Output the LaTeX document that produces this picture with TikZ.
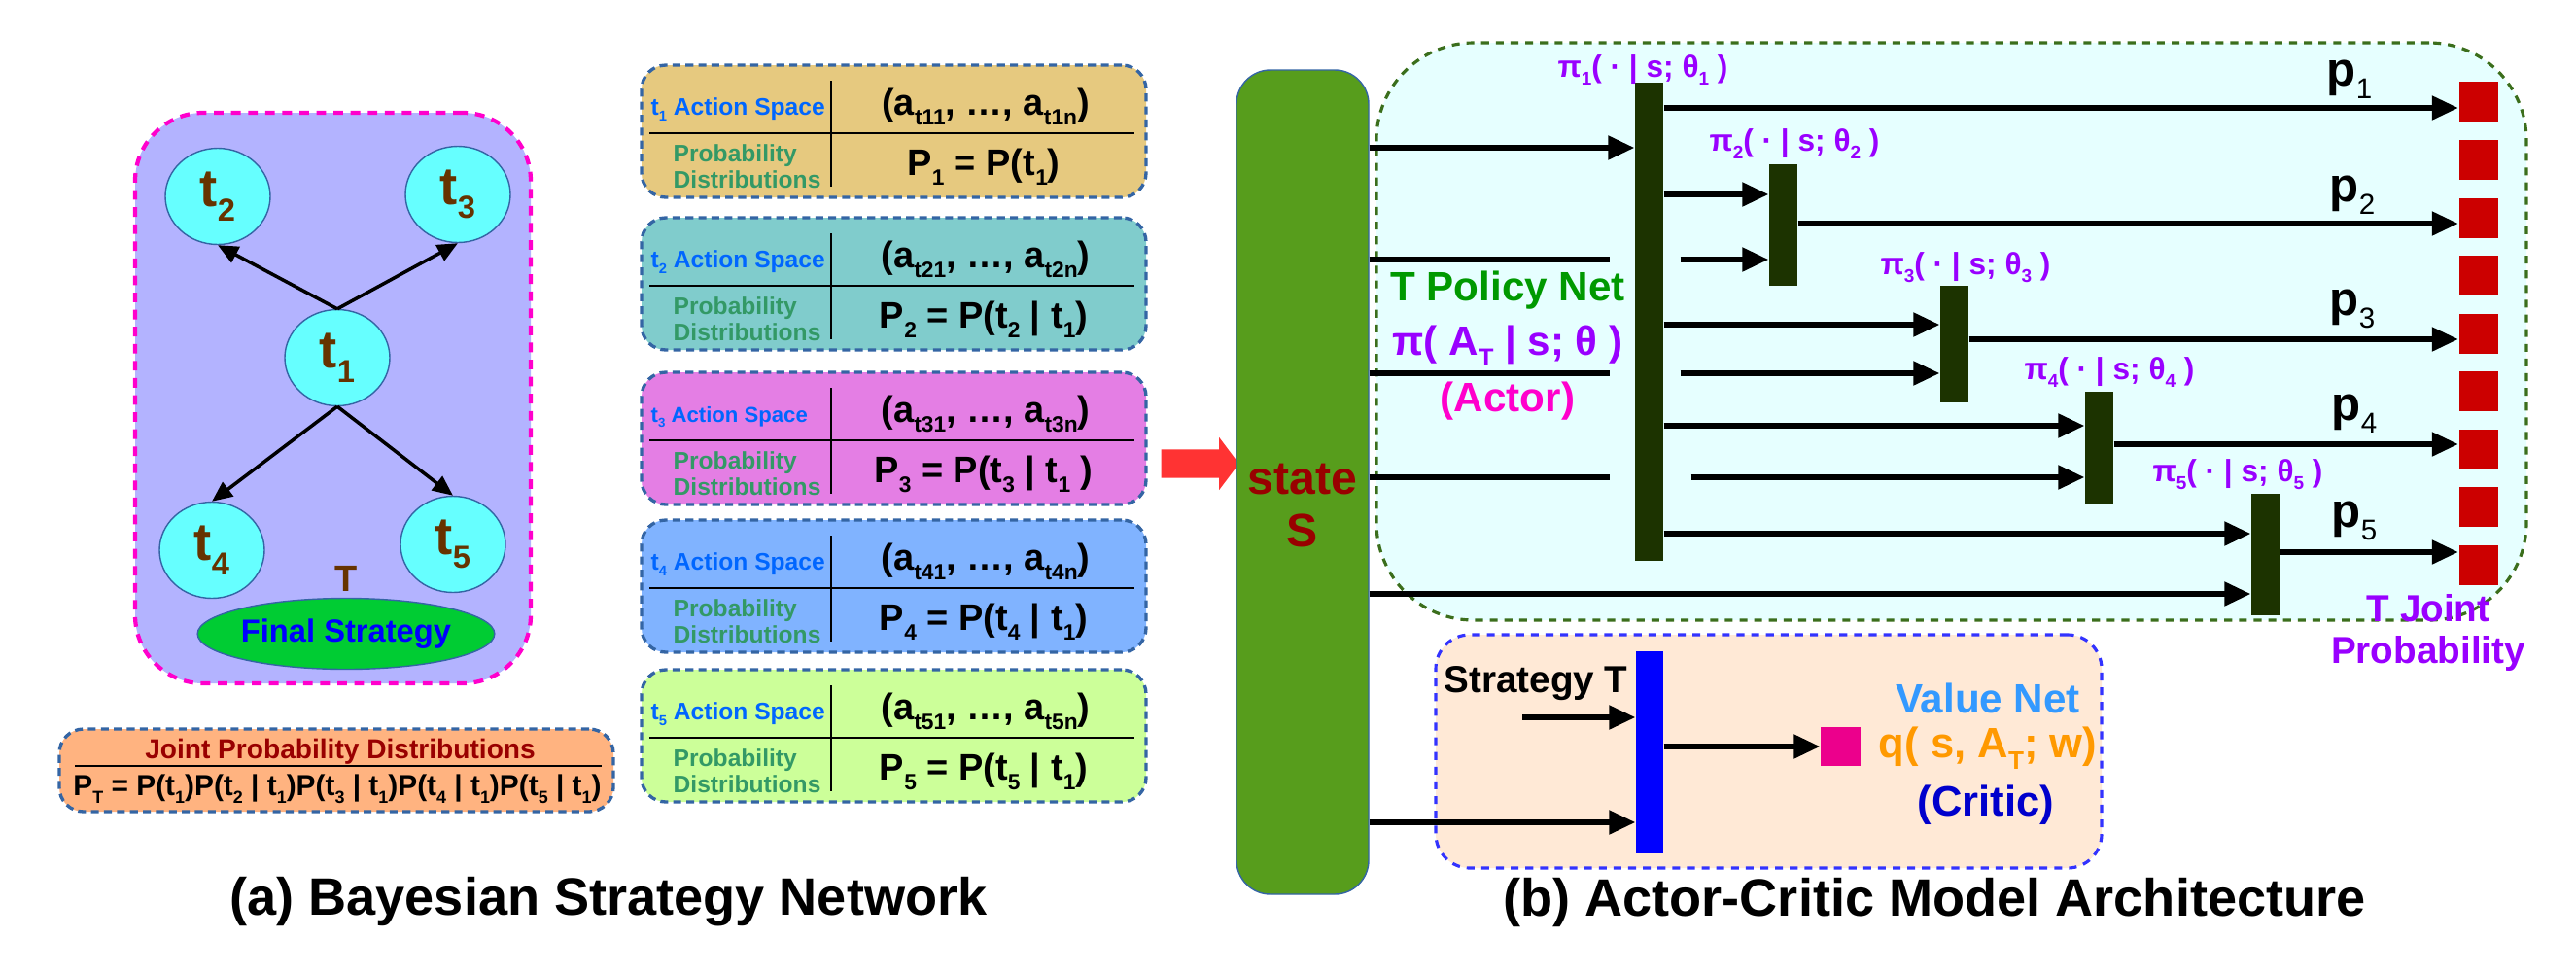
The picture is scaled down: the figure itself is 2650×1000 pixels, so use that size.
\documentclass[tikz,border=0pt]{standalone}
\usepackage{fontspec}
\setmainfont{Liberation Sans}
\usetikzlibrary{arrows.meta,shapes.geometric,shapes.arrows}

\definecolor{boxline}{HTML}{3465A4}
\definecolor{bsnfill}{HTML}{B3B3FF}
\definecolor{bsnline}{HTML}{FF00CC}
\definecolor{tcyan}{HTML}{66FFFF}
\definecolor{tbrown}{HTML}{663300}
\definecolor{fsgreen}{HTML}{00CC33}
\definecolor{jfill}{HTML}{FFB380}
\definecolor{jred}{HTML}{990000}
\definecolor{asblue}{HTML}{0066FF}
\definecolor{pdgreen}{HTML}{339966}
\definecolor{asone}{HTML}{E6C97F}
\definecolor{astwo}{HTML}{80CCCC}
\definecolor{asthree}{HTML}{E47EE4}
\definecolor{asfour}{HTML}{80B3FF}
\definecolor{asfive}{HTML}{CCFF99}
\definecolor{redarrow}{HTML}{FF3333}
\definecolor{stgreen}{HTML}{579D1C}
\definecolor{polfill}{HTML}{E6FFFF}
\definecolor{polline}{HTML}{3B6E1C}
\definecolor{pbarcol}{HTML}{1C3300}
\definecolor{sqred}{HTML}{CC0000}
\definecolor{pipurple}{HTML}{9900FF}
\definecolor{netgreen}{HTML}{009900}
\definecolor{actmag}{HTML}{FF00CC}
\definecolor{valfill}{HTML}{FFE9D6}
\definecolor{valline}{HTML}{3333FF}
\definecolor{valblue}{HTML}{3399FF}
\definecolor{qorange}{HTML}{FF9900}
\definecolor{critblue}{HTML}{0000CC}

\newcommand\dn[1]{\raisebox{-0.27em}{\scalebox{0.6}{#1}}}

\tikzset{
  txt/.style={inner sep=0pt, font=\fontsize{#1}{#1}\selectfont\bfseries},
  bsnbox/.style={draw=bsnline, fill=bsnfill, line width=1.2pt, dash pattern=on 2.8pt off 2.2pt, rounded corners=7mm, minimum width=40.7mm, minimum height=58.7mm, inner sep=0pt},
  tnode/.style={ellipse, draw=boxline, thin, fill=tcyan, minimum width=10.8mm, minimum height=9.9mm, inner sep=0pt, text=tbrown, font=\fontsize{15.5}{16}\selectfont\bfseries},
  fsnode/.style={ellipse, draw=boxline, thin, fill=fsgreen, minimum width=27.9mm, minimum height=7.3mm, inner sep=0pt, text=blue, font=\fontsize{9.3}{10}\selectfont\bfseries},
  tarrow/.style={line width=1pt, -{Triangle[length=2.1mm,width=1.8mm]}},
  dashbox/.style={draw=boxline, line width=0.95pt, dash pattern=on 2.3pt off 1.5pt, inner sep=0pt},
  actbox/.style={dashbox, rounded corners=2.5mm, minimum width=51.9mm, minimum height=13.6mm},
  aslab/.style={txt=7, text=asblue, anchor=base west},
  pdlab/.style={inner sep=0pt, font=\fontsize{7}{7.7}\selectfont\bfseries, text=pdgreen, align=left, anchor=west},
  mlab/.style={txt=10.8, anchor=base},
  redarr/.style={single arrow, fill=redarrow, minimum height=8mm, inner xsep=0pt, inner ysep=1.4mm, single arrow head extend=1.25mm, single arrow tip angle=106},
  statebar/.style={draw=boxline, thin, fill=stgreen, rounded corners=3.5mm, minimum width=13.6mm, minimum height=84.8mm, inner sep=0pt},
  polbox/.style={draw=polline, fill=polfill, line width=0.9pt, dash pattern=on 2.3pt off 2pt, rounded corners=10mm, minimum width=118.3mm, minimum height=59.4mm, inner sep=0pt},
  valbox/.style={draw=valline, fill=valfill, line width=0.9pt, dash pattern=on 2.3pt off 2pt, rounded corners=3.5mm, minimum width=68.5mm, minimum height=24mm, inner sep=0pt},
  pbar/.style={fill=pbarcol, minimum width=2.9mm, inner sep=0pt},
  sqnode/.style={fill=sqred, minimum width=4mm, minimum height=4.1mm, inner sep=0pt},
  pilab/.style={txt=9, text=pipurple},
  plab/.style={txt=14},
  pline/.style={line width=1.5pt},
  parr/.style={line width=1.5pt, -{Triangle[length=2.7mm,width=2.4mm]}}
}

\begin{document}
\begin{tikzpicture}[x=0.1mm,y=-0.1mm]
\useasboundingbox (0,0) rectangle (2650,1000);
% (a) Bayesian strategy network
\node[bsnbox] (bsn) at (342.5,409.5) {};
\node[tnode] (t1) at (347,368) {t\dn{1}};
\node[tnode] (t2) at (224,202) {t\dn{2}};
\node[tnode] (t3) at (471,200) {t\dn{3}};
\node[tnode] (t4) at (218,566) {t\dn{4}};
\node[tnode] (t5) at (466,560) {t\dn{5}};
\node[fsnode] (fs) at (356,652) {Final Strategy};
\node[txt=10.8, text=tbrown] (T) at (356,595) {T};
\draw[tarrow] (t1.north) -- (t2.south);
\draw[tarrow] (t1.north) -- (t3.south);
\draw[tarrow] (t1.south) -- (t4.north);
\draw[tarrow] (t1.south) -- (t5.north);
\node[dashbox, fill=jfill, rounded corners=2.5mm, minimum width=57mm, minimum height=8.5mm] (joint) at (346,792.5) {};
\node[txt=8, text=jred] (jtitle) at (350,773) {Joint Probability Distributions};
\draw (77,788) -- (619,788);
\node[txt=8.5] (jform) at (347,812) {P\dn{T} = P(t\dn{1})P(t\dn{2} | t\dn{1})P(t\dn{3} | t\dn{1})P(t\dn{4} | t\dn{1})P(t\dn{5} | t\dn{1})};
% action spaces
\node[actbox, fill=asone] (as1) at (919.5,135) {};
\draw (855,83) -- (855,192); \draw (668,137) -- (1167,137);
\node[aslab] (asl1) at (669,118) {t\dn{1} Action Space};
\node[pdlab] (pd1) at (692,171) {Probability\\Distributions};
\node[mlab] (a1) at (1014,118) {(a\dn{t11}, …, a\dn{t1n})};
\node[mlab] (P1) at (1012,180) {P\dn{1} = P(t\dn{1})};
\node[actbox, fill=astwo] (as2) at (919.5,292) {};
\draw (855,240) -- (855,349); \draw (668,294) -- (1167,294);
\node[aslab] (asl2) at (669,275) {t\dn{2} Action Space};
\node[pdlab] (pd2) at (692,328) {Probability\\Distributions};
\node[mlab] (a2) at (1014,275) {(a\dn{t21}, …, a\dn{t2n})};
\node[mlab] (P2) at (1012,337) {P\dn{2} = P(t\dn{2} | t\dn{1})};
\node[actbox, fill=asthree] (as3) at (919.5,451) {};
\draw (855,399) -- (855,508); \draw (668,453) -- (1167,453);
\node[aslab, txt=6.3] (asl3) at (669,434) {t\dn{3} Action Space};
\node[pdlab] (pd3) at (692,487) {Probability\\Distributions};
\node[mlab] (a3) at (1014,434) {(a\dn{t31}, …, a\dn{t3n})};
\node[mlab] (P3) at (1012,496) {P\dn{3} = P(t\dn{3} | t\dn{1} )};
\node[actbox, fill=asfour] (as4) at (919.5,603) {};
\draw (855,551) -- (855,660); \draw (668,605) -- (1167,605);
\node[aslab] (asl4) at (669,586) {t\dn{4} Action Space};
\node[pdlab] (pd4) at (692,639) {Probability\\Distributions};
\node[mlab] (a4) at (1014,586) {(a\dn{t41}, …, a\dn{t4n})};
\node[mlab] (P4) at (1012,648) {P\dn{4} = P(t\dn{4} | t\dn{1})};
\node[actbox, fill=asfive] (as5) at (919.5,757) {};
\draw (855,705) -- (855,814); \draw (668,759) -- (1167,759);
\node[aslab] (asl5) at (669,740) {t\dn{5} Action Space};
\node[pdlab] (pd5) at (692,793) {Probability\\Distributions};
\node[mlab] (a5) at (1014,740) {(a\dn{t51}, …, a\dn{t5n})};
\node[mlab] (P5) at (1012,802) {P\dn{5} = P(t\dn{5} | t\dn{1})};
\node[txt=15.4] (tta) at (626,928) {(a) Bayesian Strategy Network};
% (b) actor-critic
\node[redarr] (ra) at (1229,477) {};
\node[statebar] (st) at (1340,496) {};
\node[inner sep=0pt, align=center, text=jred, font=\fontsize{13.7}{15.6}\selectfont\bfseries] (stl) at (1340,520) {state\\S};
\node[polbox] (pol) at (2007.5,341) {};
\node[valbox] (val) at (1819.5,773) {};
\node[pbar, minimum height=49.2mm] (b1) at (1696.5,331) {};
\node[pbar, minimum height=12.5mm] (b2) at (1834.5,231.5) {};
\node[pbar, minimum height=12mm] (b3) at (2010.5,354) {};
\node[pbar, minimum height=11.5mm] (b4) at (2159.5,460.5) {};
\node[pbar, minimum height=12.5mm] (b5) at (2330.5,570.5) {};
\node[pilab] (pl1) at (1690,72) {π\dn{1}( · | s; θ\dn{1} )};
\node[pilab] (pl2) at (1846,148) {π\dn{2}( · | s; θ\dn{2} )};
\node[pilab] (pl3) at (2022,275) {π\dn{3}( · | s; θ\dn{3} )};
\node[pilab] (pl4) at (2170,383) {π\dn{4}( · | s; θ\dn{4} )};
\node[pilab] (pl5) at (2302,488) {π\dn{5}( · | s; θ\dn{5} )};
\node[sqnode] (sq1) at (2549.5,104.5) {};
\node[sqnode] (sq2) at (2549.5,164) {};
\node[sqnode] (sq3) at (2549.5,224) {};
\node[sqnode] (sq4) at (2549.5,283.5) {};
\node[sqnode] (sq5) at (2549.5,343) {};
\node[sqnode] (sq6) at (2549.5,402.5) {};
\node[sqnode] (sq7) at (2549.5,462) {};
\node[sqnode] (sq8) at (2549.5,521.5) {};
\node[sqnode] (sq9) at (2549.5,581) {};
\node[plab] (p1) at (2417,82) {p\dn{\mdseries 1}};
\node[plab] (p2) at (2420,201) {p\dn{\mdseries 2}};
\node[plab] (p3) at (2420,318) {p\dn{\mdseries 3}};
\node[plab] (p4) at (2422,426) {p\dn{\mdseries 4}};
\node[plab] (p5) at (2422,536) {p\dn{\mdseries 5}};
\node[txt=12, text=netgreen] (pnet) at (1551,299) {T Policy Net};
\node[txt=12, text=pipurple] (pif) at (1551,356) {π( A\dn{T} | s; θ )};
\node[txt=12, text=actmag] (act) at (1551,413) {(Actor)};
\node[inner sep=0pt, align=center, text=pipurple, font=\fontsize{11}{12.5}\selectfont\bfseries] (tjp) at (2498,651) {T Joint\\Probability};
\draw[parr] (st.east |- 0,152) -- (b1.west |- 0,152);
\draw[pline] (st.east |- 0,267) -- ([xshift=-2.5mm]b1.west |- 0,267);
\draw[parr] ([xshift=1.7mm]b1.east |- 0,267) -- (b2.west |- 0,267);
\draw[pline] (st.east |- 0,384) -- ([xshift=-2.5mm]b1.west |- 0,384);
\draw[parr] ([xshift=1.7mm]b1.east |- 0,384) -- (b3.west |- 0,384);
\draw[pline] (st.east |- 0,491) -- ([xshift=-2.5mm]b1.west |- 0,491);
\draw[parr] ([xshift=2.8mm]b1.east |- 0,491) -- (b4.west |- 0,491);
\draw[parr] (st.east |- 0,611) -- (b5.west |- 0,611);
\draw[parr] (b1.east |- 0,111) -- (sq1.west |- 0,111);
\draw[parr] (b1.east |- 0,200) -- (b2.west |- 0,200);
\draw[parr] (b1.east |- 0,334) -- (b3.west |- 0,334);
\draw[parr] (b1.east |- 0,438) -- (b4.west |- 0,438);
\draw[parr] (b1.east |- 0,549) -- (b5.west |- 0,549);
\draw[parr] (b2.east |- 0,230) -- (sq3.west |- 0,230);
\draw[parr] (b3.east |- 0,349) -- (sq5.west |- 0,349);
\draw[parr] (b4.east |- 0,457) -- (sq7.west |- 0,457);
\draw[parr] (b5.east |- 0,568) -- (sq9.west |- 0,568);
% value net
\node[fill=blue, minimum width=2.8mm, minimum height=20.8mm, inner sep=0pt] (vb) at (1697,774) {};
\node[fill=magenta, minimum width=4.1mm, minimum height=4mm, inner sep=0pt] (q) at (1893.5,768) {};
\node[txt=11] (strat) at (1580,703) {Strategy T};
\coordinate (sin) at (1566,738);
\draw[parr] (sin) -- (vb.west |- sin);
\draw[parr] (st.east |- 0,846) -- (vb.west |- 0,846);
\draw[parr] (vb.east |- q) -- (q.west);
\node[txt=12, text=valblue] (vnet) at (2045,718) {Value Net};
\node[txt=12.4, text=qorange] (qf) at (2045,770) {q( s, A\dn{T}; w)};
\node[txt=12.4, text=critblue] (crit) at (2043,828) {(Critic)};
\node[txt=15.4] (ttb) at (1990,928) {(b) Actor-Critic Model Architecture};
\end{tikzpicture}
\end{document}
